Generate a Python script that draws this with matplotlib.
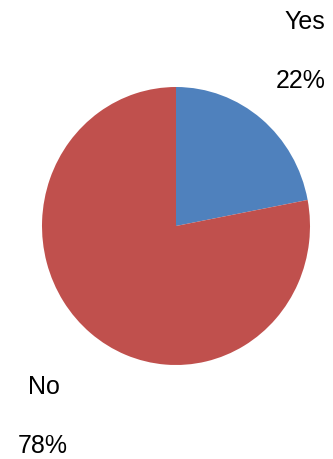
import matplotlib.pyplot as plt

labels = ['Yes', 'No']
values = [22, 78]
colors = ['#4F81BD', '#C0504D']

W, H = 333, 459
fig = plt.figure(figsize=(W / 100, H / 100), dpi=100)
plt.rcParams['font.family'] = ['Liberation Sans', 'DejaVu Sans']

# pie centre and radii in pixels (slightly taller than wide, as in the original)
cx, cy = 176, 226
rx, ry = 134, 139
pad = 1.1
ax = fig.add_axes([(cx - rx * pad) / W, (H - cy - ry * pad) / H,
                   2 * rx * pad / W, 2 * ry * pad / H])
ax.pie(values, colors=colors, startangle=90, counterclock=False,
       wedgeprops=dict(linewidth=0))
ax.set_xlim(-pad, pad)
ax.set_ylim(-pad, pad)
ax.set_aspect('auto')
ax.axis('off')

# data labels
label_pos = [((305, 22), (301, 81)), ((44, 387), (43, 446))]
for lab, val, (p1, p2) in zip(labels, values, label_pos):
    fig.text(p1[0] / W, 1 - p1[1] / H, lab, fontsize=18, ha='center', va='center')
    fig.text(p2[0] / W, 1 - p2[1] / H, f'{val}%', fontsize=18, ha='center', va='center')

fig.savefig('out.png', dpi=100)
